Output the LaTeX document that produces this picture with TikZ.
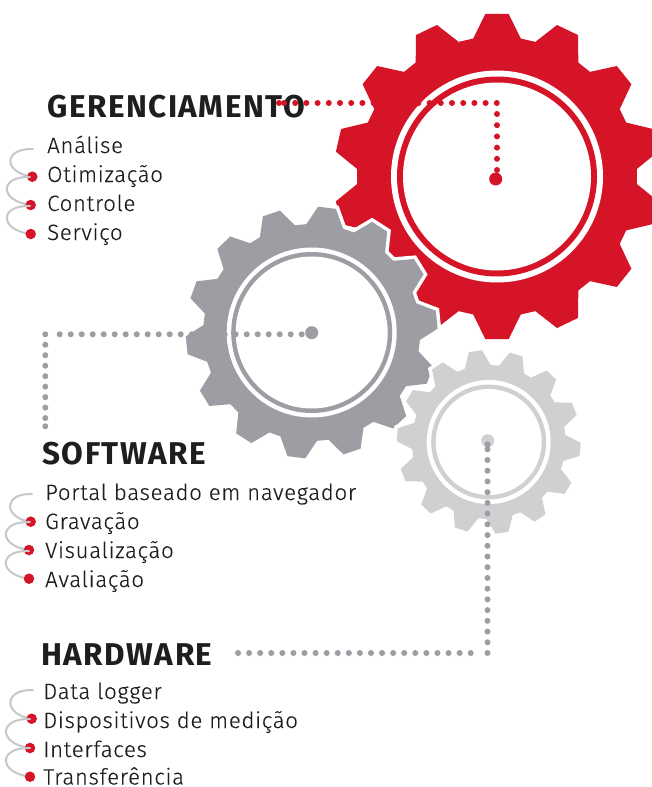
\documentclass[tikz,border=0pt]{standalone}
\usepackage{fontspec}
\setmainfont{Fira Sans}
\newfontfamily\headfont[LetterSpace=4.8]{Fira Sans Bold}
\newfontfamily\listfont[LetterSpace=3.1,FakeBold=0.25]{Fira Sans Light}
\definecolor{gearred}{HTML}{D51428}
\definecolor{geargray}{HTML}{9D9EA3}
\definecolor{gearlight}{HTML}{CFD0D2}
\definecolor{hookgray}{HTML}{C6C7C9}
\definecolor{inkdark}{HTML}{1E1E1E}
\newcommand{\gearpath}[5]{% cx cy tip root rotation
  \foreach \k in {0,...,13}{
    \pgfmathsetmacro{\ac}{#5+\k*360/14}
    \coordinate (p\k a) at ({#1+#4*cos(\ac+9.8)},{#2-#4*sin(\ac+9.8)});
    \coordinate (p\k b) at ({#1+#3*cos(\ac+4.1)},{#2-#3*sin(\ac+4.1)});
    \coordinate (p\k c) at ({#1+#3*cos(\ac-4.1)},{#2-#3*sin(\ac-4.1)});
    \coordinate (p\k d) at ({#1+#4*cos(\ac-9.8)},{#2-#4*sin(\ac-9.8)});
  }
}
\newcommand{\gearfill}[1]{%
  \draw[#1] (p0a)--(p0b)--(p0c)--(p0d)--(p13a)--(p13b)--(p13c)--(p13d)--(p12a)--(p12b)--(p12c)--(p12d)--(p11a)--(p11b)--(p11c)--(p11d)--(p10a)--(p10b)--(p10c)--(p10d)--(p9a)--(p9b)--(p9c)--(p9d)--(p8a)--(p8b)--(p8c)--(p8d)--(p7a)--(p7b)--(p7c)--(p7d)--(p6a)--(p6b)--(p6c)--(p6d)--(p5a)--(p5b)--(p5c)--(p5d)--(p4a)--(p4b)--(p4c)--(p4d)--(p3a)--(p3b)--(p3c)--(p3d)--(p2a)--(p2b)--(p2c)--(p2d)--(p1a)--(p1b)--(p1c)--(p1d)--cycle;}
\tikzset{
  x=1pt,y=-1pt,
  head/.style={anchor=base west,inner sep=0pt,text=inkdark,font=\headfont\fontsize{31.5}{31.5}\selectfont},
  item/.style={anchor=base west,inner sep=0pt,text=inkdark,font=\listfont\fontsize{22.2}{22.2}\selectfont},
  bullet/.style={circle,fill=gearred,inner sep=0pt,minimum size=10.5pt},
  hook/.style={draw=hookgray,line width=2pt,line cap=round},
  dotline/.style={line width=6pt,line cap=round,dash pattern=on 0pt off 11.2pt},
}
\begin{document}
\begin{tikzpicture}
\clip (0,0) rectangle (652,787);
\path[fill=white] (0,0) rectangle (652,787);
% red gear
\gearpath{497}{176.5}{163}{140}{90}
\gearfill{fill=gearred,draw=none}
\fill[white] (497,176.5) circle[radius=106];
\fill[gearred] (497,176.5) circle[radius=100];
\fill[white] (497,176.5) circle[radius=94];
% gray gear
\gearpath{311.7}{332.5}{126}{108.5}{83}
\gearfill{fill=geargray,draw=white,line width=7pt,line join=miter}
\gearfill{fill=geargray,draw=none}
\fill[white] (311.7,332.5) circle[radius=85];
\fill[geargray] (311.7,332.5) circle[radius=80.5];
\fill[white] (311.7,332.5) circle[radius=76];
% light gear
\gearpath{488.7}{442}{92}{77}{98.3}
\gearfill{fill=gearlight,draw=white,line width=7pt,line join=miter}
\gearfill{fill=gearlight,draw=none}
\fill[white] (488.7,442) circle[radius=62];
\fill[gearlight] (488.7,442) circle[radius=57.5];
\fill[white] (488.7,442) circle[radius=53];
% hubs
\node[circle,fill=gearred,inner sep=0pt,minimum size=13pt] (hubred) at (495.7,179) {};
\node[circle,fill=geargray,inner sep=0pt,minimum size=13pt] (hubgray) at (311.7,332.7) {};
\node[circle,fill=gearlight,inner sep=0pt,minimum size=13pt] (hublight) at (487.7,440.7) {};
% texts
\node[head] (tman) at (47,117) {GERENCIAMENTO};
\node[item] (m1) at (47,153) {Análise};
\node[item] (m2) at (47,182) {Otimização};
\node[item] (m3) at (47,211) {Controle};
\node[item] (m4) at (47,240) {Serviço};
\node[head] (tsoft) at (42,464) {SOFTWARE};
\node[item] (s1) at (45,500) {Portal baseado em navegador};
\node[item] (s2) at (45,529) {Gravação};
\node[item] (s3) at (45,558) {Visualização};
\node[item] (s4) at (45,587) {Avaliação};
\node[head] (thard) at (41,665) {HARDWARE};
\node[item] (h1) at (43,699) {Data logger};
\node[item] (h2) at (43,728) {Dispositivos de medição};
\node[item] (h3) at (43,757) {Interfaces};
\node[item] (h4) at (43,784.5) {Transferência};
% dotted connectors
\coordinate (rc) at (497,103);
\coordinate (re) at (283.7,103);
\coordinate (rs) at (497,170);
\coordinate (rx) at (279,103);
\draw[dotline,draw=gearred] (rs) -- (rc) -- (re);
\draw[dotline,draw=gearred] (rx) -- +(0.01,0);
\coordinate (gs) at (301.7,334.3);
\coordinate (ga) at (59.4,334.3);
\coordinate (gc) at (45.3,334.3);
\coordinate (ge) at (45.3,418.3);
\coordinate (gx) at (45.3,426.3);
\draw[dotline,draw=geargray,dash pattern=on 0pt off 11pt] (gs) -- (ga);
\draw[dotline,draw=geargray,dash pattern=on 0pt off 10.47pt] (gc) -- (ge);
\draw[dotline,draw=geargray] (gx) -- +(0.01,0);
\coordinate (lx) at (487.5,444.3);
\coordinate (ls) at (487.5,449.3);
\coordinate (lc) at (487.5,653.3);
\coordinate (la) at (470.7,653);
\coordinate (le) at (237.7,653);
\draw[dotline,draw=geargray] (lx) -- +(0,0.01);
\draw[dotline,draw=geargray,dash pattern=on 0pt off 10.72pt] (ls) -- (lc);
\draw[dotline,draw=geargray,dash pattern=on 0pt off 11.08pt] (la) -- (le);
% list markers: name/bullet x/bullet y/start x/start y/control x
\foreach \n/\x/\y/\px/\py/\cx in {a/32.3/176.7/33/149/3,b/30.7/205/30/177/-1,c/30.7/234/30/206/-1,d/30.7/521.7/32/494/3,e/29/550/30/522/-2,f/29/578.7/29/551/-2,g/31.7/718.7/33/690/3,h/30/748/30/719/-2,i/30/776.7/30/748/-2}{
  \draw[hook] (\px,\py) .. controls (\cx,\py-1) and (\cx,\y-4) .. (\x,\y);
  \node[bullet] (b\n) at (\x,\y) {};
}
\end{tikzpicture}
\end{document}
